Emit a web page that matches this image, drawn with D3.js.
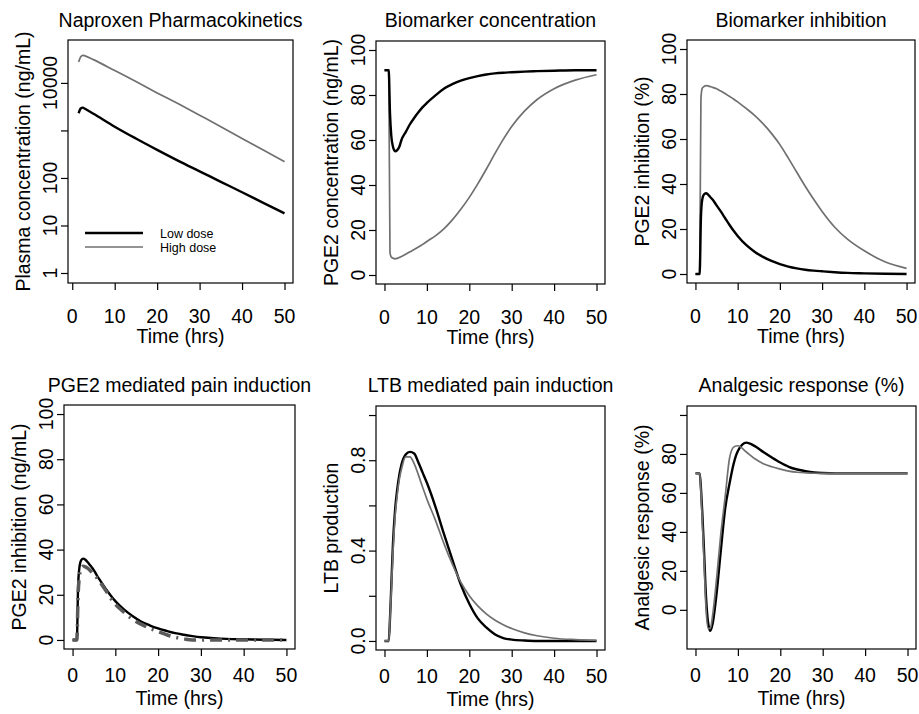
<!DOCTYPE html>
<meta charset="utf-8">
<title>Naproxen PK/PD</title>
<style>

body {
  margin: 0;
  background: #fff;
}

text {
  font-family: "Liberation Sans", Arial, sans-serif;
  fill: #000;
}

.box {
  fill: none;
  stroke: #000;
  stroke-width: 1.2px;
}

.tick line {
  stroke: #000;
  stroke-width: 1.2px;
}

.low {
  fill: none;
  stroke: #000;
  stroke-width: 2.4px;
}

.high {
  fill: none;
  stroke: #707070;
  stroke-width: 1.7px;
}

.obs {
  fill: none;
  stroke: #5a5a5a;
  stroke-width: 3.5px;
  stroke-dasharray: 12,6,2,6;
}

</style>
<body>
<script src="https://d3js.org/d3.v7.min.js"></script>
<script>

// pharmacokinetics (log scale)
var pkTime = [1.5, 2, 2.5, 3, 5, 10, 15, 20, 25, 30, 35, 40, 45, 50];
var pkLow  = [2300, 2900, 3020, 2850, 2240, 1200, 676, 390, 229, 138, 83, 50, 30, 18];
var pkHigh = [27500, 35500, 38000, 37150, 30900, 18200, 10700, 6170, 3630, 2090, 1200, 676, 389, 219];

// common time grid for the PD panels
var time = [0, 0.5, 1, 1.3, 1.6, 2, 2.5, 3, 3.5, 4, 5, 6, 7, 8, 9, 10, 12, 14, 16, 18, 20,
            22, 24, 26, 28, 30, 33, 36, 40, 45, 50];

var pgeLow  = [91, 91, 91, 72, 62, 57, 55, 55.5, 57, 60, 63.5, 67, 69.8, 72.3, 74.6, 76.5, 79.8, 82.8, 84.8, 86.4, 87.5,
               88.4, 89.1, 89.6, 89.9, 90.1, 90.4, 90.6, 90.8, 91, 91];
var pgeHigh = [91, 91, 91, 10, 8, 7.5, 7.2, 7.4, 7.8, 8.2, 9.2, 10.3, 11.3, 12.4, 13.6, 14.9, 17.4, 20.5, 24.5, 29.2, 34.5,
               40.5, 47, 53.8, 60.3, 66, 72.8, 78, 82.8, 86.6, 89];

var inhLow  = [0, 0, 0, 25, 33, 35.3, 35.9, 35.3, 34.2, 33.2, 30.5, 27.8, 24.9, 22, 19.3, 16.9, 12.9, 9.9, 7.6, 5.8, 4.4,
               3.3, 2.5, 1.9, 1.5, 1.2, 0.8, 0.5, 0.3, 0.1, 0];
var inhHigh = [0, 0, 0, 78, 82.5, 83.3, 83.7, 83.6, 83.3, 83, 82.3, 81.3, 80.2, 79, 77.8, 76.5, 73.6, 70.5, 66.8, 62.5, 57.5,
               51.5, 45.2, 39, 33.2, 27.8, 20.8, 15.5, 10.3, 5.3, 2.5];

var painModel = [0, 0, 0, 24, 32, 35.2, 36, 35.5, 34.5, 33.3, 30.8, 27.6, 24.8, 22, 19.5, 17.2, 13.5, 10.6, 8.2, 6.5, 5.1,
                 4, 3, 2.3, 1.7, 1.2, 0.8, 0.5, 0.3, 0.1, 0];
var painObs   = [0, 0, 0, 20, 28, 31.5, 32.6, 32.4, 31.8, 31, 28.8, 26.8, 24, 21.2, 18.2, 15.8, 12.3, 9.2, 7, 5.2, 3.7,
                 2.3, 1.2, 0.5, 0, 0, 0, 0, 0, 0, 0];

var ltbLow  = [0, 0, 0, 0.1, 0.24, 0.43, 0.58, 0.67, 0.735, 0.78, 0.825, 0.837, 0.83, 0.79, 0.745, 0.7, 0.595, 0.475, 0.36, 0.25, 0.165,
               0.1, 0.06, 0.03, 0.013, 0.006, 0.002, 0, 0, 0, 0];
var ltbHigh = [0, 0, 0, 0.1, 0.22, 0.39, 0.55, 0.645, 0.715, 0.76, 0.815, 0.815, 0.785, 0.735, 0.68, 0.628, 0.535, 0.432, 0.34, 0.26, 0.2,
               0.155, 0.12, 0.093, 0.072, 0.055, 0.036, 0.023, 0.012, 0.006, 0.003];

var respLow  = [70, 70, 70, 62, 50, 31, 6, -7, -10.8, -7.5, 8.9, 31, 52, 64.5, 75, 81.5, 85.8, 84, 81, 78.2, 75.6,
                73.4, 72, 71.1, 70.5, 70.2, 70, 70, 70, 70, 70];
var respHigh = [70, 70, 70, 60, 46, 26, 0, -9.5, -9.5, -3.5, 16.5, 39.5, 58, 77.5, 83.5, 84.2, 81, 77.5, 75, 73.4, 72.2,
                71.2, 70.6, 70.3, 70.1, 70, 70, 70, 70, 70, 70];

var xTicks = [0, 10, 20, 30, 40, 50];
var pctTicks = [0, 20, 40, 60, 80, 100];
var pkTicks = [1, 10, 100, 1000, 10000];
var pkTickLabels = ["1", "10", "100", "", "10000"];
var ltbTicks = [0, 0.2, 0.4, 0.6, 0.8, 1];
var ltbTickLabels = ["0.0", "", "0.4", "", "0.8", ""];
var respTickLabels = ["0", "20", "40", "60", "80", ""];
var legendLabels = ["Low dose", "High dose"];

var w = 919,
    h = 714,
    fs = "19.5px";

var svg = d3.select("body").append("svg")
    .attr("width", w)
    .attr("height", h);

function s(xs, ys) {
  return xs.map(function(t, i) { return [t, ys[i]]; });
}

var panels = [
  { title: "Naproxen Pharmacokinetics", ylab: "Plasma concentration (ng/mL)",
    box: [68, 40, 293, 283], xdom: [-1, 52], ylog: true, ydom: [0.616, 80000],
    yticks: pkTicks, ylabels: pkTickLabels,
    series: [["high", s(pkTime, pkHigh)], ["low", s(pkTime, pkLow)]], legend: true },
  { title: "Biomarker concentration", ylab: "PGE2 concentration (ng/mL)",
    box: [376, 41, 605, 284], xdom: [-2, 52], ydom: [-4, 104],
    yticks: pctTicks, ylabels: pctTicks.map(String),
    series: [["high", s(time, pgeHigh)], ["low", s(time, pgeLow)]] },
  { title: "Biomarker inhibition", ylab: "PGE2 inhibition (%)",
    box: [687, 40, 915, 283], xdom: [-2, 52], ydom: [-4, 104],
    yticks: pctTicks, ylabels: pctTicks.map(String),
    series: [["high", s(time, inhHigh)], ["low", s(time, inhLow)]] },
  { title: "PGE2 mediated pain induction", ylab: "PGE2 inhibition (ng/mL)",
    box: [64, 405, 295, 649], xdom: [-2, 52], ydom: [-4, 104],
    yticks: pctTicks, ylabels: pctTicks.map(String),
    series: [["low", s(time, painModel)], ["obs", s(time, painObs)]] },
  { title: "LTB mediated pain induction", ylab: "LTB production",
    box: [376, 406, 605, 650], xdom: [-2, 52], ydom: [-0.04, 1.04],
    yticks: ltbTicks, ylabels: ltbTickLabels,
    series: [["low", s(time, ltbLow)], ["high", s(time, ltbHigh)]] },
  { title: "Analgesic response (%)", ylab: "Analgesic response (%)",
    box: [687, 406, 916, 649], xdom: [-2, 52], ydom: [-20.1, 104.6],
    yticks: pctTicks, ylabels: respTickLabels,
    series: [["low", s(time, respLow)], ["high", s(time, respHigh)]] }
];

panels.forEach(function(p, i) {
  var x0 = p.box[0], y0 = p.box[1], x1 = p.box[2], y1 = p.box[3];
  var top = i < 3;

  var x = d3.scaleLinear().domain(p.xdom).range([x0, x1]);
  var y = (p.ylog ? d3.scaleLog() : d3.scaleLinear()).domain(p.ydom).range([y1, y0]);

  var g = svg.append("g");

  var line = d3.line()
      .x(function(d) { return x(d[0]); })
      .y(function(d) { return y(d[1]); })
      .curve(d3.curveMonotoneX);

  p.series.forEach(function(sr) {
    g.append("path")
        .attr("class", sr[0])
        .attr("d", line(sr[1]));
  });

  g.append("rect")
      .attr("class", "box")
      .attr("x", x0)
      .attr("y", y0)
      .attr("width", x1 - x0)
      .attr("height", y1 - y0);

  // x axis
  var xa = g.append("g")
      .attr("transform", "translate(0," + y1 + ")")
      .call(d3.axisBottom(x).tickValues(xTicks).tickSize(7).tickFormat(""));
  xa.select(".domain").remove();

  g.selectAll(".xlab")
      .data(xTicks)
    .enter().append("text")
      .attr("x", function(d) { return x(d); })
      .attr("y", y1 + (top ? 40 : 33))
      .attr("text-anchor", "middle")
      .style("font-size", fs)
      .text(String);

  // y axis
  var ya = g.append("g")
      .attr("transform", "translate(" + x0 + ",0)")
      .call(d3.axisLeft(y).tickValues(p.yticks).tickSize(7).tickFormat(""));
  ya.select(".domain").remove();

  g.selectAll(".ylab")
      .data(p.yticks)
    .enter().append("text")
      .attr("transform", function(d) { return "translate(" + (x0 - 11) + "," + y(d) + ") rotate(-90)"; })
      .attr("text-anchor", "middle")
      .style("font-size", fs)
      .text(function(d, j) { return p.ylabels[j]; });

  g.append("text")
      .attr("x", (x0 + x1) / 2)
      .attr("y", top ? 27 : 392)
      .attr("text-anchor", "middle")
      .style("font-size", fs)
      .text(p.title);

  g.append("text")
      .attr("x", (x0 + x1) / 2)
      .attr("y", y1 + (top ? 60 : 56))
      .attr("text-anchor", "middle")
      .style("font-size", fs)
      .text("Time (hrs)");

  g.append("text")
      .attr("transform", "translate(" + (x0 - 38) + "," + (y0 + y1) / 2 + ") rotate(-90)")
      .attr("text-anchor", "middle")
      .style("font-size", fs)
      .text(p.ylab);

  if (p.legend) {
    var lg = g.append("g").attr("transform", "translate(" + (x0 + 17) + "," + (y0 + 193) + ")");
    legendLabels.forEach(function(l, j) {
      lg.append("line")
          .attr("class", j ? "high" : "low")
          .attr("x1", 0).attr("x2", 58)
          .attr("y1", j * 14).attr("y2", j * 14);
      lg.append("text")
          .attr("x", 75)
          .attr("y", j * 14 + 5)
          .style("font-size", "12.5px")
          .text(l);
    });
  }
});

</script>
